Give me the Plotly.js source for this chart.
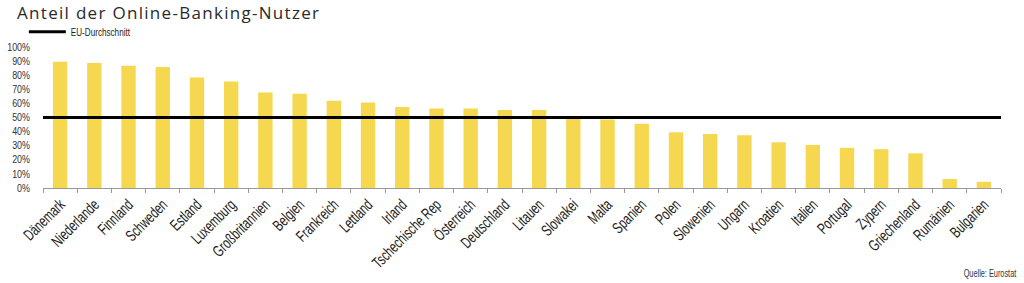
<!DOCTYPE html>
<html>
<head>
<meta charset="utf-8">
<script src="https://cdn.plot.ly/plotly-3.0.1.min.js"></script>
<style>
  html, body { margin: 0; padding: 0; background: #fff; }
  #chart { width: 1024px; height: 283px; }
  .gtitle { letter-spacing: 1.3px; }
</style>
</head>
<body>
<div id="chart"></div>
<script>
const countries = ["Dänemark","Niederlande","Finnland","Schweden","Estland","Luxemburg","Großbritannien","Belgien","Frankreich","Lettland","Irland","Tschechische Rep","Österreich","Deutschland","Litauen","Slowakei","Malta","Spanien","Polen","Slowenien","Ungarn","Kroatien","Italien","Portugal","Zypern","Griechenland","Rumänien","Bulgarien"];
const shares = [89.5, 88.7, 86.7, 85.8, 78.4, 75.6, 67.7, 66.8, 61.8, 60.6, 57.5, 56.3, 56.3, 55.4, 55.4, 50.6, 48.5, 45.5, 39.5, 38.3, 37.4, 32.4, 30.5, 28.5, 27.5, 24.6, 6.4, 4.4];
const euAverage = 50;
const yTickValues = [0,10,20,30,40,50,60,70,80,90,100];
const yTickLabels = ["0%","10%","20%","30%","40%","50%","60%","70%","80%","90%","100%"];
const chartTitle = "Anteil der Online-Banking-Nutzer";
const averageLabel = "EU-Durchschnitt";
const sourceLabel = "Quelle: Eurostat";

const narrow = "'Liberation Sans', Arial, sans-serif";

const traces = [
  {
    type: "bar",
    x: countries,
    y: shares,
    marker: { color: "#f5d84f", line: { width: 0 } },
    showlegend: false,
    hoverinfo: "x+y"
  },
  {
    type: "scatter",
    mode: "lines",
    x: [0, 1],
    y: [euAverage, euAverage],
    xaxis: "x2",
    name: averageLabel,
    line: { color: "#000", width: 3 },
    showlegend: true
  }
];

const layout = {
  width: 1024,
  height: 283,
  margin: { l: 43, r: 23, t: 47, b: 95, pad: 0, autoexpand: false },
  paper_bgcolor: "#fff",
  plot_bgcolor: "#fff",
  bargap: 0.58,
  title: {
    text: chartTitle,
    font: { family: "'Open Sans', sans-serif", size: 17, weight: 400, color: "#2a2a2a" },
    xref: "container", x: 17/1024, xanchor: "left",
    yref: "container", y: 1 - 13.5/283, yanchor: "middle"
  },
  xaxis: {
    type: "category",
    tickangle: -45,
    tickson: "boundaries",
    ticks: "outside",
    ticklen: 4,
    tickcolor: "#999",
    showline: true,
    linecolor: "#999",
    linewidth: 1,
    showgrid: false,
    zeroline: false,
    tickfont: { family: narrow, size: 16, color: "#1a1a1a" },
    fixedrange: true
  },
  xaxis2: {
    overlaying: "x",
    range: [0, 1],
    visible: false,
    fixedrange: true
  },
  yaxis: {
    range: [0, 100],
    tickvals: yTickValues,
    ticktext: yTickLabels,
    showgrid: false,
    zeroline: false,
    showline: false,
    ticks: "",
    ticklabelstandoff: 12,
    tickfont: { family: narrow, size: 10.5, color: "#333" },
    fixedrange: true
  },
  showlegend: true,
  legend: {
    x: -0.02, xanchor: "left",
    y: 1.1085, yanchor: "middle",
    orientation: "h",
    bgcolor: "rgba(0,0,0,0)",
    itemwidth: 37,
    font: { family: narrow, size: 11, color: "#222" }
  },
  annotations: [
    {
      text: sourceLabel,
      xref: "paper", yref: "paper",
      x: 1.0177, y: -0.603,
      xanchor: "right", yanchor: "middle",
      showarrow: false,
      font: { family: narrow, size: 10.5, color: "#333" }
    }
  ]
};

// Horizontally condense text (imitates the condensed typeface of the original)
function condense(selector, s, mode) {
  document.querySelectorAll(selector).forEach(function (t) {
    const bb = t.getBBox();
    const anchor = mode || t.getAttribute("text-anchor") || "start";
    const ax = anchor === "end" ? bb.x + bb.width : (anchor === "middle" ? bb.x + bb.width / 2 : bb.x);
    const ay = bb.y + bb.height / 2;
    const prev = t.getAttribute("transform") || "";
    t.setAttribute("transform", prev + " translate(" + ax + "," + ay + ") scale(" + s + ",1) translate(" + (-ax) + "," + (-ay) + ")");
  });
}

Plotly.newPlot("chart", traces, layout, { displayModeBar: false, staticPlot: true }).then(function () {
  condense("#chart .xtick text", 0.69, "end");
  condense("#chart .ytick text", 0.85, "end");
  condense("#chart .legendtext", 0.74, "start");
  condense("#chart .annotation-text", 0.7, "end");
});
</script>
</body>
</html>
